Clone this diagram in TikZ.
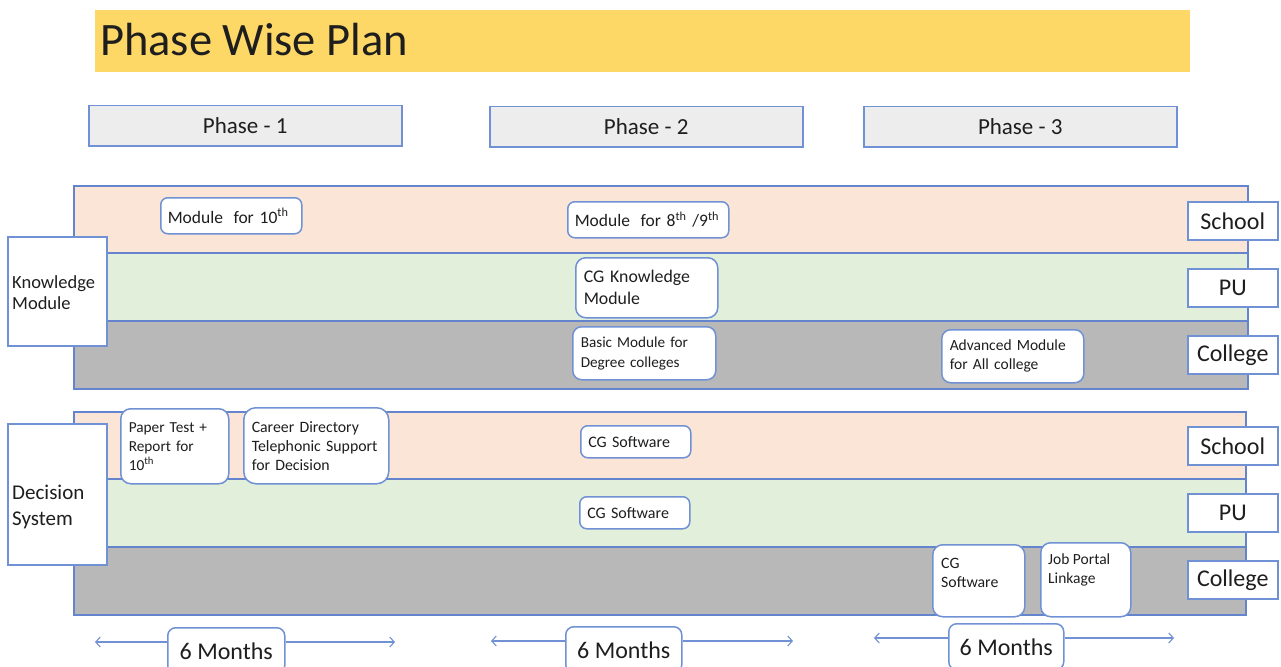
\documentclass[tikz,border=0pt]{standalone}
\usepackage{fontspec}
\setmainfont{Carlito}
\usetikzlibrary{arrows.meta}
\definecolor{bblue}{RGB}{112,145,212}
\definecolor{bandblue}{RGB}{100,132,205}
\definecolor{titley}{RGB}{254,216,102}
\definecolor{phgray}{RGB}{237,237,237}
\definecolor{peach}{RGB}{251,229,214}
\definecolor{lgreen}{RGB}{226,239,218}
\definecolor{dgray}{RGB}{184,184,184}
\definecolor{txt}{RGB}{30,30,30}
\tikzset{
  every node/.style={text=txt},
  band/.style={draw=bandblue, line width=1.6pt, anchor=north west, minimum width=1174pt, minimum height=68pt, inner sep=0pt},
  phasebox/.style={draw=bblue, line width=1.5pt, fill=phgray, anchor=north west, minimum width=313pt, minimum height=40pt, inner sep=0pt, font=\fontsize{23}{25}\selectfont},
  sidebox/.style={draw=bblue, line width=1.5pt, fill=white, anchor=north west, minimum width=99pt, inner sep=0pt},
  sidetext/.style={anchor=west, align=left, inner sep=0pt},
  freetext/.style={anchor=north west, align=left, inner sep=0pt},
  lvlbox/.style={draw=bblue, line width=1.5pt, fill=white, anchor=north west, minimum width=90pt, minimum height=38pt, inner sep=0pt, font=\fontsize{24}{26}\selectfont},
  rbox/.style={draw=bblue, line width=1.5pt, fill=white, rounded corners=7pt, anchor=north west, inner ysep=0pt, inner xsep=8pt, align=left},
  mobox/.style={draw=bblue, line width=1.5pt, fill=white, rounded corners=8pt, anchor=north west, inner sep=0pt, minimum height=46pt, font=\fontsize{24}{26}\selectfont},
  span/.style={draw=bblue, line width=1.1pt, -{Straight Barb[length=4.5pt,width=10pt]}},
}
\begin{document}
\begin{tikzpicture}[x=1pt,y=-1pt]
\useasboundingbox (0,0) rectangle (1281,666);
\clip (0,0) rectangle (1281,666);
% title
\node[fill=titley, anchor=north west, minimum width=1095pt, minimum height=62pt, inner sep=0pt] (title) at (95,10) {};
\node[anchor=west, font=\fontsize{46.5}{48}\selectfont, inner sep=0pt] (titletext) at (100,40) {Phase Wise Plan};
% phases
\node[phasebox] (ph1) at (88,105) {Phase - 1};
\node[phasebox] (ph2) at (489,106) {Phase - 2};
\node[phasebox] (ph3) at (863,106) {Phase - 3};
% knowledge bands
\node[band, fill=peach] (ks) at (73,185) {};
\node[band, fill=lgreen] (kp) at (73,252) {};
\node[band, fill=dgray] (kc) at (73,320) {};
% decision bands
\node[band, fill=peach, minimum width=1172pt] (ds) at (73,411) {};
\node[band, fill=lgreen, minimum width=1172pt] (dp) at (73,478) {};
\node[band, fill=dgray, minimum width=1172pt] (dc) at (73,546) {};
% side boxes
\node[sidebox, minimum height=109pt] (km) at (7,236) {};
\node[sidetext, font=\fontsize{18.5}{21}\selectfont] (kmt) at (12,292.5) {Knowledge\\Module};
\node[sidebox, minimum height=141pt] (dsys) at (7,423) {};
\node[sidetext, font=\fontsize{21}{26}\selectfont] (dsyst) at (12,507) {Decision\\System};
% level labels
\node[lvlbox] (l1) at (1187,201) {School};
\node[lvlbox] (l2) at (1187,268) {PU};
\node[lvlbox] (l3) at (1187,335) {College};
\node[lvlbox] (l4) at (1187,426) {School};
\node[lvlbox] (l5) at (1187,493) {PU};
\node[lvlbox] (l6) at (1187,560) {College};
% knowledge items
\node[rbox, minimum width=141pt, minimum height=36pt, text width=127pt, inner xsep=7pt, font=\fontsize{17.5}{20}\selectfont] (m10) at (160,197) {\mbox{Module\hspace{0.6em}for 10\textsuperscript{th}}};
\node[rbox, minimum width=161pt, minimum height=36pt, text width=147pt, inner xsep=7pt, font=\fontsize{17.5}{20}\selectfont] (m89) at (567,201) {\mbox{Module\hspace{0.6em}for 8\textsuperscript{th} /9\textsuperscript{th}}};
\node[rbox, rounded corners=10pt, minimum width=142pt, minimum height=60pt, text width=126pt, font=\fontsize{17.8}{22}\selectfont] (cgk) at (575,257) {CG Knowledge\\Module};
\node[rbox, rounded corners=9pt, minimum width=143pt, minimum height=53pt, text width=127pt, font=\fontsize{15.2}{20}\selectfont] (basic) at (572,326) {Basic Module for\\Degree colleges};
\node[rbox, rounded corners=9pt, minimum width=142pt, minimum height=53pt, text width=126pt, font=\fontsize{15.5}{19}\selectfont] (adv) at (941,329) {Advanced Module\\for All college};
% decision items
\node[rbox, rounded corners=10pt, minimum width=108pt, minimum height=75pt, text width=92pt, font=\fontsize{15.3}{19}\selectfont] (paper) at (120,408) {Paper Test +\\Report for\\10\textsuperscript{th}};
\node[rbox, rounded corners=12pt, minimum width=145pt, minimum height=76pt, text width=129pt, font=\fontsize{15.8}{19}\selectfont] (career) at (243,407) {Career Directory\\Telephonic Support\\for Decision};
\node[rbox, minimum width=110pt, minimum height=32pt, text width=95pt, inner xsep=7pt, font=\fontsize{16}{18}\selectfont] (cgs1) at (580,425) {CG Software};
\node[rbox, minimum width=110pt, minimum height=32pt, text width=95pt, inner xsep=7pt, font=\fontsize{16}{18}\selectfont] (cgs2) at (579,496) {CG Software};
\node[rbox, rounded corners=10pt, minimum width=92pt, minimum height=72pt] (cgs3) at (932,544) {};
\node[freetext, font=\fontsize{15.8}{19}\selectfont] (cgs3t) at (941,558) {CG\\Software};
\node[rbox, rounded corners=10pt, minimum width=90pt, minimum height=74pt] (job) at (1040,542) {};
\node[freetext, font=\fontsize{15.5}{19}\selectfont] (jobt) at (1048,554) {Job Portal\\Linkage};
% durations
\node[mobox, minimum width=117pt] (mo1) at (167,627) {6 Months};
\node[mobox, minimum width=116pt] (mo2) at (565,626) {6 Months};
\node[mobox, minimum width=115pt] (mo3) at (948,623) {6 Months};
\coordinate (a1l) at (95,642); \coordinate (a1r) at (395,642);
\coordinate (a2l) at (491,641); \coordinate (a2r) at (793,641);
\coordinate (a3l) at (874,638); \coordinate (a3r) at (1174,638);
\draw[span] (mo1.west |- a1l) -- (a1l);
\draw[span] (mo1.east |- a1r) -- (a1r);
\draw[span] (mo2.west |- a2l) -- (a2l);
\draw[span] (mo2.east |- a2r) -- (a2r);
\draw[span] (mo3.west |- a3l) -- (a3l);
\draw[span] (mo3.east |- a3r) -- (a3r);
\end{tikzpicture}
\end{document}
